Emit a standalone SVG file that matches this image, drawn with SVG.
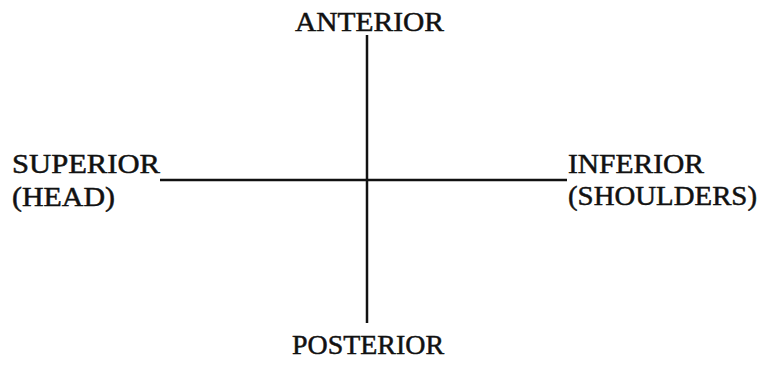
<svg xmlns="http://www.w3.org/2000/svg" width="778" height="366" viewBox="0 0 778 366">
<style>
text{font-family:"Liberation Serif","Times New Roman",serif;font-size:28px;fill:#111;stroke:#111;stroke-width:0.5}
.ax{stroke:#111;stroke-width:2.5;fill:none}
</style>
<rect width="778" height="366" fill="#fff"/>
<g id="connectors">
<line class="ax" x1="367" y1="35" x2="367" y2="323"/>
<line class="ax" x1="160" y1="180" x2="567" y2="180"/>
</g>
<g id="anterior"><text x="295" y="31" textLength="149" lengthAdjust="spacingAndGlyphs">ANTERIOR</text></g>
<g id="posterior"><text x="292" y="354" textLength="152" lengthAdjust="spacingAndGlyphs">POSTERIOR</text></g>
<g id="superior"><text x="12" y="173" textLength="148" lengthAdjust="spacingAndGlyphs">SUPERIOR</text><text x="12" y="206" textLength="103" lengthAdjust="spacingAndGlyphs">(HEAD)</text></g>
<g id="inferior"><text x="568" y="173" textLength="136" lengthAdjust="spacingAndGlyphs">INFERIOR</text><text x="568" y="205" textLength="189" lengthAdjust="spacingAndGlyphs">(SHOULDERS)</text></g>
</svg>
